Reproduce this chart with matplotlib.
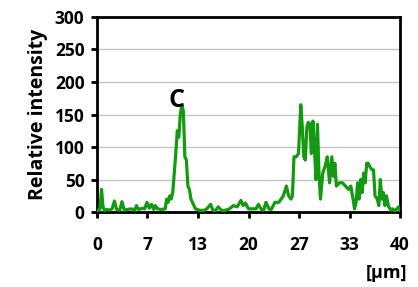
import matplotlib.pyplot as plt
import numpy as np

# intensity profile
pos_um = [0.0, 0.2, 0.4, 0.6, 0.8, 1.0, 1.3, 1.6, 2.0, 2.3, 2.6, 3.0, 3.3, 3.6,
          4.0, 4.5, 5.0, 5.2, 5.5, 6.0, 6.3, 6.6, 6.9, 7.2, 7.5, 7.7, 8.0, 8.5,
          9.0, 9.2, 9.4, 9.6, 9.8, 10.0, 10.2, 10.4, 10.6, 10.8, 11.0, 11.2,
          11.4, 11.6, 11.8, 12.0, 12.2, 12.4, 12.6, 12.8, 13.0, 13.5, 14.0,
          14.5, 15.0, 15.3, 15.6, 16.0, 16.5, 17.0, 17.5, 18.0, 18.5, 19.0,
          19.3, 19.6, 20.0, 20.5, 21.0, 21.3, 21.7, 22.0, 22.3, 22.7, 23.0,
          23.5, 24.0, 24.3, 24.6, 25.0, 25.3, 25.6, 25.8, 26.0, 26.3, 26.6,
          26.9, 27.1, 27.3, 27.5, 27.7, 27.9, 28.1, 28.3, 28.5, 28.7, 28.9,
          29.1, 29.3, 29.5, 29.8, 30.1, 30.4, 30.7, 31.0, 31.2, 31.4, 31.6,
          32.0, 32.4, 32.8, 33.2, 33.5, 33.8, 34.0, 34.2, 34.4, 34.6, 34.8,
          35.0, 35.2, 35.4, 35.6, 35.8, 36.0, 36.3, 36.5, 36.7, 37.0, 37.2,
          37.4, 37.6, 37.8, 38.0, 38.2, 38.5, 38.8, 39.0, 39.3, 39.6, 39.8, 40.0]
intensity = [3, 2, 5, 35, 8, 2, 4, 3, 5, 17, 4, 3, 16, 3,
             4, 5, 3, 10, 4, 6, 5, 15, 6, 12, 4, 10, 5, 4,
             5, 20, 15, 25, 20, 30, 60, 90, 125, 115, 150, 165,
             155, 85, 80, 40, 35, 20, 15, 10, 5, 3, 2,
             5, 12, 3, 2, 8, 2, 3, 5, 10, 8, 18,
             10, 14, 5, 5, 5, 12, 4, 3, 15, 5, 4,
             15, 15, 20, 25, 40, 25, 20, 25, 85, 85, 90,
             165, 130, 85, 80, 130, 138, 135, 90, 140, 100, 50,
             135, 60, 20, 60, 70, 85, 45, 85, 55, 75, 40,
             45, 45, 40, 35, 40, 20, 5, 15, 45, 20, 50,
             30, 60, 45, 75, 75, 70, 65, 65, 25, 20, 10,
             50, 20, 30, 10, 25, 8, 3, 5, 2, 5, 8, 2]

xtick_pos = np.linspace(0, 40, 7)
xtick_labels = ['0', '7', '13', '20', '27', '33', '40']
yticks = [0, 50, 100, 150, 200, 250, 300]

plt.rcParams['font.family'] = ['Open Sans', 'DejaVu Sans']
plt.rcParams['font.weight'] = 'bold'

fig = plt.figure(figsize=(4.18, 2.87), dpi=100)
ax = fig.add_axes([0.232, 0.261, 0.725, 0.68])

ax.plot(pos_um, intensity, color='#139a10', lw=2.3, zorder=3)
ax.text(10.5, 172, 'C', fontsize=18, fontweight='bold', ha='center', va='center')

ax.set_xlim(0, 40)
ax.set_ylim(0, 300)
ax.set_yticks(yticks)
ax.set_xticks(xtick_pos)
ax.set_xticklabels(xtick_labels)
ax.yaxis.grid(True, color='#c4c4c4', lw=1)
ax.set_axisbelow(True)
for s in ax.spines.values():
    s.set_linewidth(2)
    s.set_color('black')
ax.tick_params(axis='both', labelsize=12.5, width=2, length=4, direction='out')
ax.tick_params(axis='x', pad=13)
ax.tick_params(axis='y', pad=5)
ax.set_ylabel('Relative intensity', fontsize=14, fontweight='bold', labelpad=5)

fig.text(0.925, 0.05, '[µm]', fontsize=13, fontweight='bold', ha='center', va='center')
# bottom edge of the previous panel's unit label, cut by the crop
fig.text(0.925, 1.02, '[µm]', fontsize=13, fontweight='bold', ha='center', va='baseline')

fig.savefig('out.png', dpi=100)
